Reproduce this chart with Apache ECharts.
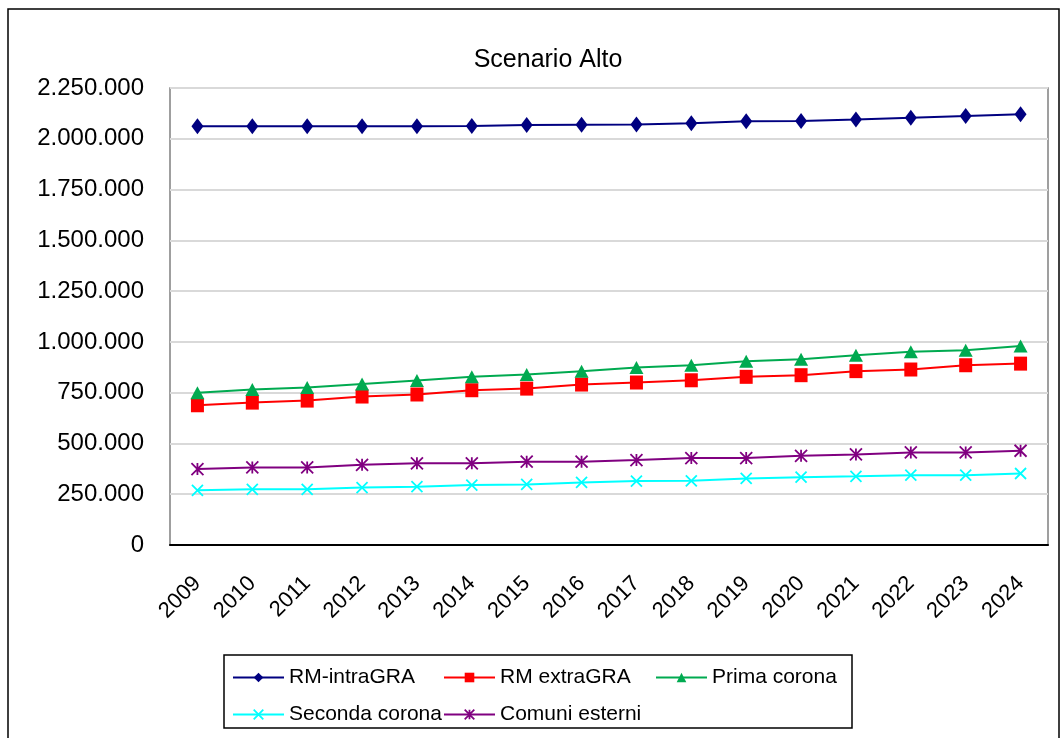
<!DOCTYPE html>
<html><head><meta charset="utf-8">
<script src="https://cdn.jsdelivr.net/npm/echarts@6/dist/echarts.min.js"></script>
<style>html,body{margin:0;padding:0;background:#fff}#c{width:1063px;height:738px}</style>
</head><body><div id="c"></div>
<script>
const years = ['2009','2010','2011','2012','2013','2014','2015','2016','2017','2018','2019','2020','2021','2022','2023','2024'];
const intraGRA = [2062000,2062000,2062000,2062000,2062000,2063000,2068000,2069000,2070000,2077000,2086000,2087000,2095000,2104000,2112000,2121000];
const extraGRA = [688000,701000,711000,731000,741000,762000,770000,790000,800000,811000,828000,836000,856000,864000,885000,893000];
const primaCorona = [750000,765000,775000,793000,810000,828000,839000,856000,874000,885000,905000,915000,934000,951000,959000,980000];
const secondaCorona = [269000,274000,274000,283000,287000,295000,298000,308000,315000,316000,328000,334000,338000,344000,344000,352000];
const comuniEsterni = [374000,382000,382000,395000,402000,402000,410000,410000,418000,428000,428000,439000,446000,456000,456000,464000];
const names = ['RM-intraGRA','RM extraGRA','Prima corona','Seconda corona','Comuni esterni'];

const FONT = 'Liberation Sans, Arial, sans-serif';
function fmt(v){ return String(v).replace(/\B(?=(\d{3})+(?!\d))/g,'.'); }
const xPath = 'path://M0,0L10,10M10,0L0,10';
const starPath = 'path://M0,0L10,10M10,0L0,10M5,0L5,10';
const colors = ['#000080','#FF0000','#00AA50','#00FFFF','#800080'];
const stroked = [false,false,false,true,true];

function mk(i, data, symbol, size){
  const color = colors[i];
  return {
    name:names[i], type:'line', data, symbol, symbolSize:size,
    lineStyle:{color, width:2},
    itemStyle: stroked[i] ? {color:'rgba(0,0,0,0)', borderColor:color, borderWidth:1.8} : {color, borderWidth:0},
    emphasis:{disabled:true}, animation:false
  };
}

const chart = echarts.init(document.getElementById('c'));
const legendPos = [[232,667],[443,667],[655,667],[232,704],[443,704]];
chart.setOption({
  animation:false,
  title:{text:'Scenario Alto', left:543, textAlign:'center', top:43,
    textStyle:{fontFamily:FONT, fontSize:25, fontWeight:'normal', color:'#000'}},
  graphic:[
    {type:'rect', shape:{x:8,y:9,width:1051,height:740}, style:{fill:'none', stroke:'#000', lineWidth:1.5}, silent:true},
    {type:'rect', shape:{x:224,y:655,width:628,height:73}, style:{fill:'#fff', stroke:'#000', lineWidth:1.5}, silent:true, z:-1}
  ],
  legend: names.map((n,i)=>({
    data:[n], left:legendPos[i][0], top:legendPos[i][1], itemWidth:51, itemHeight:12, padding:0,
    textStyle:{fontFamily:FONT, fontSize:21, color:'#000'}, selectedMode:false,
    itemStyle: stroked[i] ? {color:'rgba(0,0,0,0)', borderColor:colors[i], borderWidth:1.8} : {color:colors[i], borderWidth:0},
    lineStyle:{color:colors[i], width:2}
  })),
  grid:{left:170, right:15, top:88, bottom:193, show:true, borderColor:'#808080', borderWidth:1.5},
  xAxis:{type:'category', data:years, boundaryGap:true,
    axisLine:{lineStyle:{color:'#000', width:2}},
    axisTick:{lineStyle:{color:'#000', width:1.5}, length:6},
    axisLabel:{rotate:45, fontFamily:FONT, fontSize:22, color:'#000', margin:35}},
  yAxis:{type:'value', min:0, max:2250000, interval:250000,
    axisLine:{show:false}, axisTick:{show:false},
    splitLine:{lineStyle:{color:'#D9D9D9', width:2}},
    axisLabel:{formatter:fmt, fontFamily:FONT, fontSize:24, color:'#000', margin:26}},
  series:[
    mk(0, intraGRA, 'diamond', [12,16]),
    mk(1, extraGRA, 'rect', [13,14]),
    mk(2, primaCorona, 'triangle', [14,13]),
    mk(3, secondaCorona, xPath, 11),
    mk(4, comuniEsterni, starPath, 12)
  ]
});
</script></body></html>
